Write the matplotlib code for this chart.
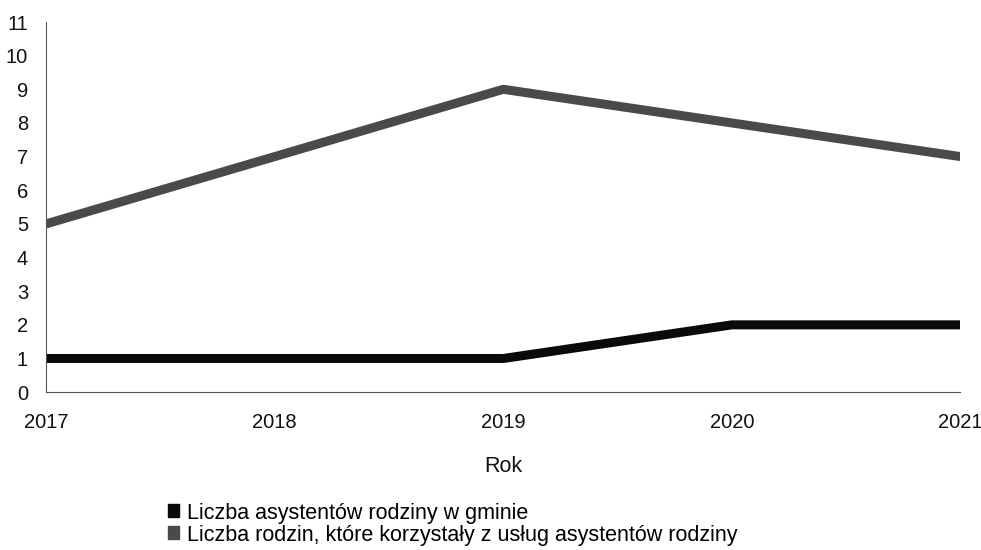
import matplotlib.pyplot as plt
from matplotlib.patches import Patch

plt.rcParams['font.family'] = ['Liberation Sans', 'DejaVu Sans']

years = [2017, 2018, 2019, 2020, 2021]
asystenci = [1, 1, 1, 2, 2]
rodziny = [5, 7, 9, 8, 7]
labels = ['Liczba asystentów rodziny w gminie',
          'Liczba rodzin, które korzystały z usług asystentów rodziny']
colors = ['#0a0a0a', '#4a4a4a']

fig = plt.figure(figsize=(9.81, 5.5), dpi=100)
ax = fig.add_axes([0.047, 0.287, 0.932, 0.673])

ax.plot(years, asystenci, color=colors[0], linewidth=6.5, solid_capstyle='butt')
ax.plot(years, rodziny, color=colors[1], linewidth=6.5, solid_capstyle='butt')

ax.set_xlim(2017, 2021)
ax.set_ylim(0, 11)
ax.set_xticks(years)
ax.set_yticks(range(0, 12))
ax.tick_params(length=0, labelsize=14.5, colors='#111111')
ax.tick_params(axis='x', pad=15)
ax.tick_params(axis='y', pad=13)
ax.set_xlabel('Rok', fontsize=15.5, labelpad=17, color='#111111')

for side in ['top', 'right']:
    ax.spines[side].set_visible(False)
for side in ['left', 'bottom']:
    ax.spines[side].set_color('#555555')
    ax.spines[side].set_linewidth(0.8)

handles = [Patch(facecolor=c, edgecolor=c) for c in colors]
fig.legend(handles, labels, loc='upper left', bbox_to_anchor=(0.162, 0.102),
           frameon=False, fontsize=15.5, handlelength=0.55, handleheight=0.55,
           handletextpad=0.35, labelspacing=0.05, borderaxespad=0)

fig.savefig('out.png', dpi=100, facecolor='white')
